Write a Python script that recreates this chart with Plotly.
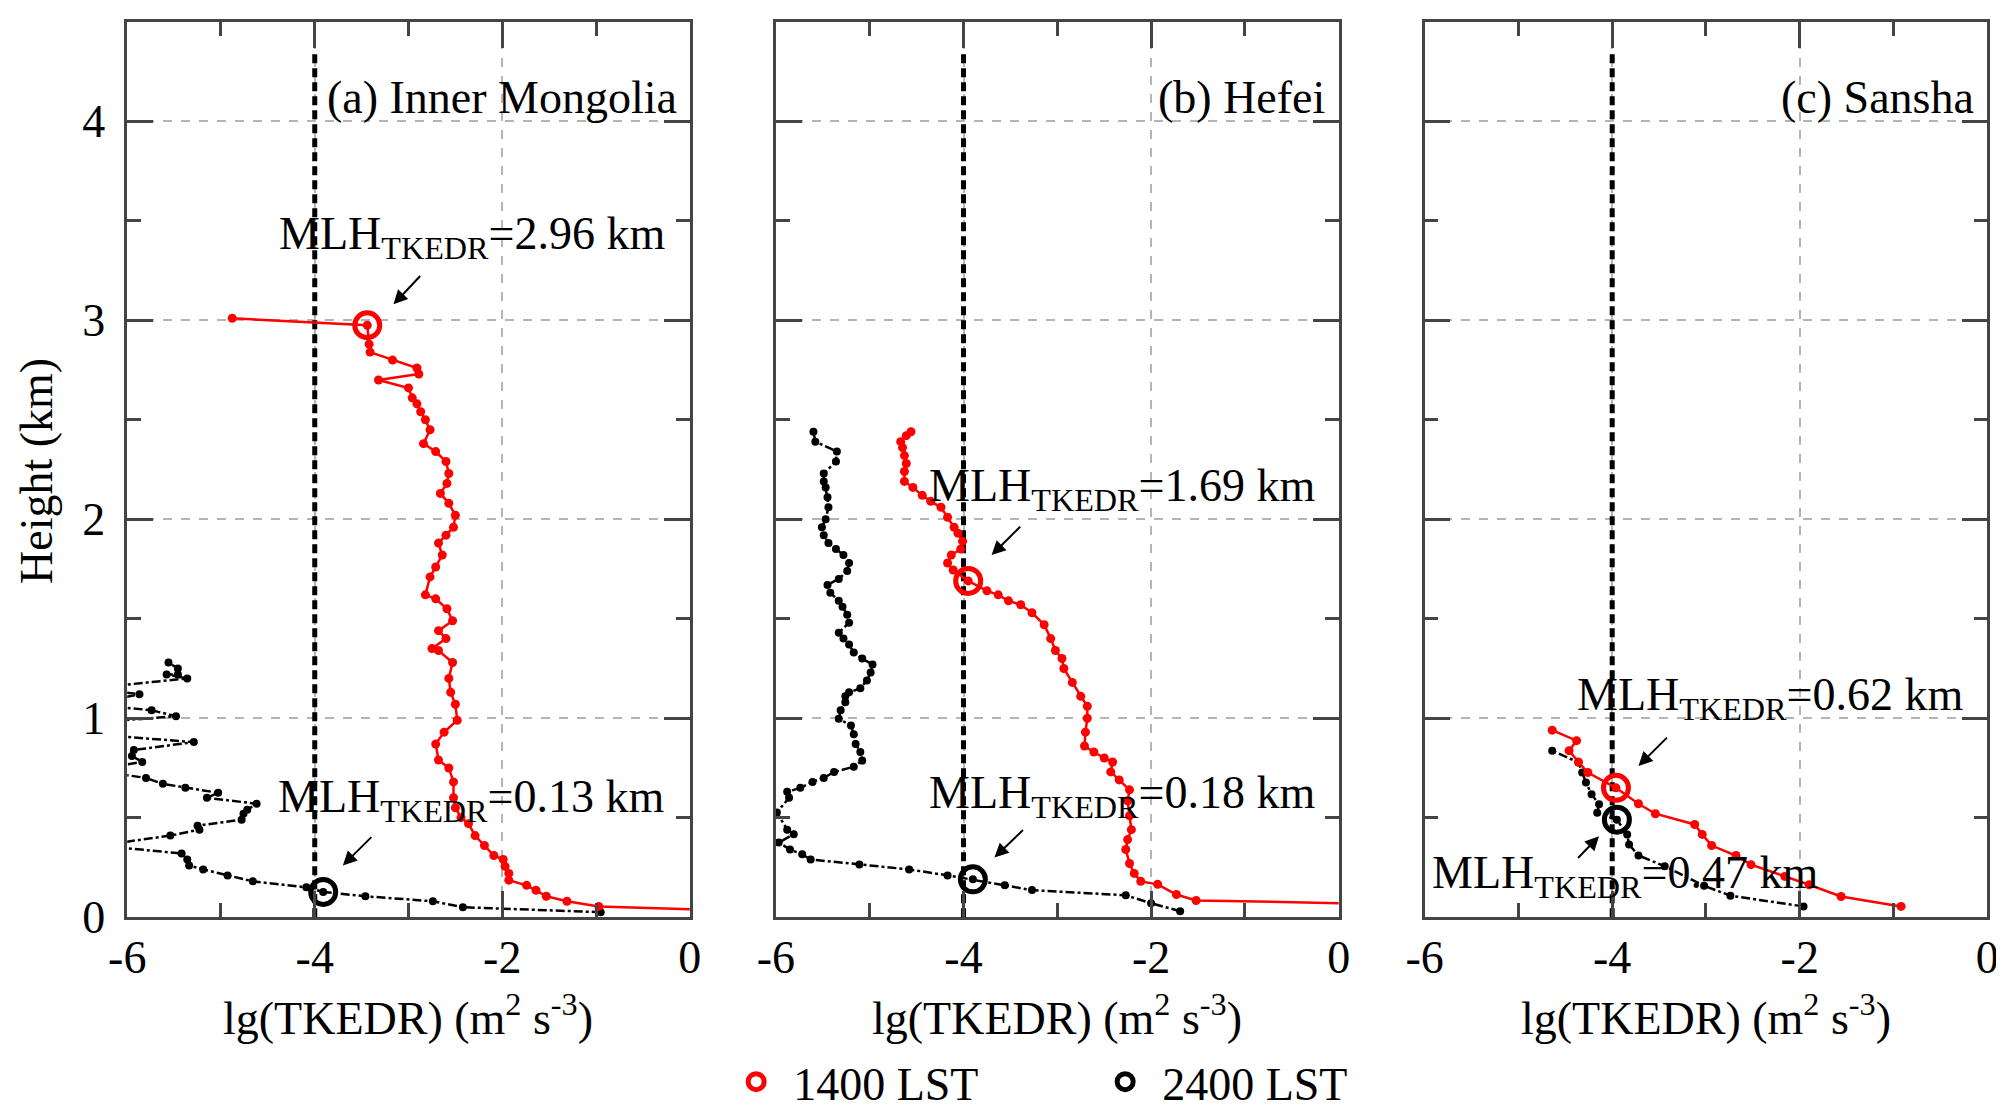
import plotly.graph_objects as go

# Profiles of lg(TKEDR) (m2 s-3) versus height (km)

# (a) Inner Mongolia
a_red_x = [0.3, -0.97, -1.31, -1.53, -1.64, -1.74, -1.93, -1.93, -1.97, -1.99, -2.09, -2.19, -2.29,
           -2.36, -2.44, -2.50, -2.52, -2.52, -2.57, -2.68, -2.71, -2.62, -2.48, -2.50, -2.55, -2.57,
           -2.53, -2.68, -2.75, -2.60, -2.68, -2.53, -2.59, -2.71, -2.82, -2.77, -2.71, -2.64, -2.68,
           -2.60, -2.52, -2.50, -2.57, -2.66, -2.59, -2.57, -2.60, -2.71, -2.84, -2.77, -2.82, -2.87,
           -2.91, -2.96, -3.00, -3.32, -2.89, -2.91, -3.17, -3.41, -3.42, -3.44, -4.88]
a_red_y = [0.035, 0.054, 0.08, 0.105, 0.135, 0.16, 0.186, 0.22, 0.255, 0.29, 0.31, 0.36, 0.41,
           0.47, 0.50, 0.55, 0.60, 0.68, 0.75, 0.79, 0.87, 0.93, 0.99, 1.07, 1.13, 1.20,
           1.28, 1.34, 1.35, 1.40, 1.44, 1.49, 1.55, 1.60, 1.62, 1.71, 1.76, 1.82, 1.88,
           1.92, 1.96, 2.02, 2.08, 2.13, 2.18, 2.23, 2.29, 2.34, 2.38, 2.45, 2.50, 2.54,
           2.58, 2.61, 2.66, 2.70, 2.73, 2.76, 2.80, 2.84, 2.88, 2.975, 3.01]
a_blk_x = [-0.95, -2.42, -2.74, -3.46, -3.91, -4.09, -4.66, -4.93, -5.19, -5.34, -5.36, -5.42, -6.3,
           -5.54, -5.23, -5.25, -4.78, -4.76, -4.72, -4.62, -5.15, -5.03, -5.38, -5.62, -5.80, -6.4,
           -5.84, -5.95, -5.93, -5.29, -6.4, -6.3, -5.48, -5.74, -6.4, -5.87, -6.4, -5.36, -5.58,
           -5.46, -5.46, -5.56]
a_blk_y = [0.025, 0.05, 0.08, 0.105, 0.127, 0.15, 0.18, 0.21, 0.24, 0.26, 0.29, 0.32, 0.36,
           0.41, 0.44, 0.46, 0.49, 0.52, 0.54, 0.57, 0.60, 0.625, 0.65, 0.67, 0.70, 0.74,
           0.78, 0.81, 0.84, 0.88, 0.92, 0.98, 1.01, 1.04, 1.07, 1.12, 1.15, 1.20, 1.22,
           1.22, 1.25, 1.28]

# (b) Hefei
b_red_x = [0.3, -1.52, -1.73, -1.93, -2.11, -2.18, -2.23, -2.27, -2.25, -2.21, -2.23, -2.25, -2.23,
           -2.34, -2.43, -2.41, -2.50, -2.61, -2.71, -2.70, -2.68, -2.68, -2.75, -2.84, -2.93, -2.95,
           -3.02, -3.07, -3.14, -3.27, -3.39, -3.52, -3.63, -3.75, -3.95, -4.11, -4.17, -4.13, -4.03,
           -4.01, -4.06, -4.10, -4.17, -4.24, -4.35, -4.44, -4.54, -4.63, -4.63, -4.61, -4.63, -4.65,
           -4.67, -4.61, -4.56]
b_red_y = [0.068, 0.084, 0.114, 0.165, 0.18, 0.22, 0.27, 0.34, 0.39, 0.44, 0.51, 0.585, 0.64,
           0.69, 0.73, 0.78, 0.80, 0.83, 0.86, 0.93, 1.00, 1.06, 1.11, 1.18, 1.25, 1.30,
           1.34, 1.40, 1.47, 1.53, 1.57, 1.59, 1.62, 1.64, 1.69, 1.745, 1.78, 1.82, 1.85,
           1.89, 1.93, 1.96, 2.01, 2.06, 2.09, 2.12, 2.16, 2.19, 2.24, 2.28, 2.32, 2.36,
           2.39, 2.42, 2.44]
b_blk_x = [-1.69, -2.00, -2.27, -3.27, -3.56, -3.90, -4.17, -4.58, -5.11, -5.63, -5.72, -5.85, -5.97,
           -5.81, -5.88, -5.99, -5.86, -5.88, -5.74, -5.61, -5.49, -5.38, -5.17, -5.08, -5.10, -5.15,
           -5.17, -5.20, -5.33, -5.31, -5.26, -5.26, -5.22, -5.10, -5.03, -4.99, -4.97, -5.08, -5.17,
           -5.22, -5.28, -5.33, -5.22, -5.24, -5.29, -5.33, -5.42, -5.45, -5.33, -5.24, -5.22, -5.28,
           -5.36, -5.44, -5.49, -5.51, -5.47, -5.44, -5.45, -5.47, -5.49, -5.49, -5.36, -5.35, -5.58,
           -5.60]
b_blk_y = [0.03, 0.07, 0.11, 0.136, 0.16, 0.19, 0.21, 0.24, 0.265, 0.29, 0.316, 0.34, 0.375,
           0.417, 0.44, 0.526, 0.60, 0.63, 0.65, 0.68, 0.70, 0.73, 0.756, 0.787, 0.83, 0.87,
           0.92, 0.963, 0.997, 1.04, 1.08, 1.11, 1.13, 1.15, 1.19, 1.23, 1.27, 1.30, 1.33,
           1.37, 1.40, 1.43, 1.48, 1.52, 1.56, 1.59, 1.63, 1.67, 1.70, 1.74, 1.78, 1.82,
           1.85, 1.88, 1.92, 1.96, 2.00, 2.06, 2.11, 2.16, 2.19, 2.23, 2.29, 2.34, 2.39,
           2.44]

# (c) Sansha
c_red_x = [-0.92, -1.56, -1.90, -2.16, -2.52, -2.68, -2.94, -3.04, -3.12, -3.54, -3.72, -3.96,
           -4.26, -4.36, -4.46, -4.38, -4.64]
c_red_y = [0.054, 0.104, 0.163, 0.205, 0.264, 0.31, 0.36, 0.416, 0.466, 0.52, 0.57, 0.65,
           0.727, 0.78, 0.837, 0.887, 0.94]
c_blk_x = [-1.96, -2.74, -3.02, -3.44, -3.72, -3.82, -3.84, -3.95, -4.16, -4.14, -4.22, -4.28,
           -4.32, -4.36, -4.64]
c_blk_y = [0.054, 0.108, 0.158, 0.256, 0.31, 0.365, 0.416, 0.49, 0.525, 0.567, 0.618, 0.677,
           0.727, 0.778, 0.837]

# Mixing-layer heights (marked points) and labels
mlh_red_x = [-3.44, -3.95, -3.96]
mlh_red_y = [2.975, 1.69, 0.65]
mlh_blk_x = [-3.91, -3.90, -3.95]
mlh_blk_y = [0.127, 0.19, 0.49]
mlh_red_lbl = ['2.96', '1.69', '0.62']
mlh_blk_lbl = ['0.13', '0.18', '0.47']
panel_lbl = ['(a) Inner Mongolia', '(b) Hefei', '(c) Sansha']

# tick labels (plain hyphen as in the original)
x_tickvals = [-6, -4, -2, 0]
x_ticktext = ['-6', '-4', '-2', '0']
y_tickvals = [0, 1, 2, 3, 4]
y_ticktext = ['0', '1', '2', '3', '4']

# threshold line lg(TKEDR) = -4
thr_x = [-4, -4]
thr_y = [0, 4.35]

FONT = 'Liberation Serif'
FS = 46

profiles = [
    (a_red_x, a_red_y, a_blk_x, a_blk_y),
    (b_red_x, b_red_y, b_blk_x, b_blk_y),
    (c_red_x, c_red_y, c_blk_x, c_blk_y),
]
# page body adds an 8 px offset, so the domains are shifted back by that amount
x_domains = [[0.0595, 0.3402], [0.3832, 0.6640], [0.7069, 0.9877]]
y_domain = [0.1846, 0.9876]

# label / arrow placement per panel (data units)
red_txt = [(-2.32, 3.42), (-2.31, 2.15), (-2.32, 1.10)]
red_arr = [((-2.86, 3.23), (-3.16, 3.08)), ((-3.38, 1.97), (-3.70, 1.82)), ((-3.40, 0.91), (-3.72, 0.76))]
blk_txt = [(-2.33, 0.59), (-2.31, 0.61), (-3.86, 0.205)]
blk_arr = [((-3.38, 0.41), (-3.70, 0.26)), ((-3.35, 0.445), (-3.67, 0.30)), ((-4.38, 0.29), (-4.14, 0.407))]

fig = go.Figure()
annotations = []

for i, (rx, ry, bx, by) in enumerate(profiles):
    xa = 'x' if i == 0 else f'x{i + 1}'
    ya = 'y' if i == 0 else f'y{i + 1}'
    fig.add_trace(go.Scatter(x=thr_x, y=thr_y, xaxis=xa, yaxis=ya, mode='lines',
                             line=dict(color='black', width=5, dash='9px,5px'), showlegend=False))
    fig.add_trace(go.Scatter(x=bx, y=by, xaxis=xa, yaxis=ya, mode='lines+markers',
                             line=dict(color='black', width=2.5, dash='dashdot'),
                             marker=dict(color='black', size=8), showlegend=False))
    fig.add_trace(go.Scatter(x=rx, y=ry, xaxis=xa, yaxis=ya, mode='lines+markers',
                             line=dict(color='#ff0000', width=2.5),
                             marker=dict(color='#ff0000', size=9), showlegend=False))
    fig.add_trace(go.Scatter(x=[mlh_red_x[i]], y=[mlh_red_y[i]], xaxis=xa, yaxis=ya, mode='markers',
                             marker=dict(symbol='circle-open', color='#ff0000', size=25,
                                         line=dict(width=5, color='#ff0000')),
                             name='1400 LST', showlegend=(i == 0)))
    fig.add_trace(go.Scatter(x=[mlh_blk_x[i]], y=[mlh_blk_y[i]], xaxis=xa, yaxis=ya, mode='markers',
                             marker=dict(symbol='circle-open', color='black', size=25,
                                         line=dict(width=5, color='black')),
                             name='2400 LST', showlegend=(i == 0)))

    for (tx, ty), lbl, ((ax_, ay_), (hx, hy)) in ((red_txt[i], mlh_red_lbl[i], red_arr[i]),
                                                (blk_txt[i], mlh_blk_lbl[i], blk_arr[i])):
        annotations.append(dict(x=tx, y=ty, xref=xa, yref=ya, showarrow=False,
                                text=f'MLH<sub>TKEDR</sub>={lbl} km',
                                font=dict(family=FONT, size=FS, color='black')))
        annotations.append(dict(x=hx, y=hy, ax=ax_, ay=ay_, xref=xa, yref=ya, axref=xa, ayref=ya,
                                text='', showarrow=True, arrowhead=2, arrowsize=1.4,
                                arrowwidth=2, arrowcolor='black'))
    annotations.append(dict(x=-0.12, y=4.12, xref=xa, yref=ya, xanchor='right', showarrow=False,
                            text=panel_lbl[i], font=dict(family=FONT, size=FS, color='black')))
    annotations.append(dict(x=sum(x_domains[i]) / 2, y=0.097, xref='paper', yref='paper',
                            xanchor='center', yanchor='middle', showarrow=False,
                            text='lg(TKEDR) (m<sup>2</sup> s<sup>-3</sup>)',
                            font=dict(family=FONT, size=FS, color='black')))

annotations.append(dict(x=0.0145, y=0.5848, xref='paper', yref='paper', showarrow=False,
                        xanchor='center', yanchor='middle', textangle=-90, text='Height (km)',
                        font=dict(family=FONT, size=FS, color='black')))

axis_common = dict(showline=True, linecolor='#444444', linewidth=2.5, mirror='allticks',
                   ticks='inside', ticklen=26, tickwidth=2.5, tickcolor='#444444',
                   showgrid=True, gridcolor='#b4b4b4', griddash='dash', gridwidth=2,
                   zeroline=False, automargin=False,
                   tickfont=dict(family=FONT, size=FS, color='black'))

layout = dict(width=2004, height=1115, margin=dict(l=0, r=0, t=0, b=0, autoexpand=False),
              paper_bgcolor='white', plot_bgcolor='white',
              font=dict(family=FONT, size=FS, color='black'),
              annotations=annotations,
              legend=dict(orientation='h', x=0.539, xanchor='center', y=0.037, yanchor='middle',
                          font=dict(family=FONT, size=FS, color='black'), entrywidth=290,
                          itemwidth=64, bgcolor='rgba(0,0,0,0)'))

for i in range(3):
    xk = 'xaxis' if i == 0 else f'xaxis{i + 1}'
    yk = 'yaxis' if i == 0 else f'yaxis{i + 1}'
    ya = 'y' if i == 0 else f'y{i + 1}'
    xa = 'x' if i == 0 else f'x{i + 1}'
    layout[xk] = dict(axis_common, domain=x_domains[i], anchor=ya, range=[-6, 0],
                      tickmode='array', tickvals=x_tickvals, ticktext=x_ticktext,
                      ticklabelstandoff=-2,
                      minor=dict(dtick=1, tick0=-6, ticklen=14, tickwidth=2.5, tickcolor='#444444',
                                 ticks='inside', showgrid=False))
    layout[yk] = dict(axis_common, domain=y_domain, anchor=xa, range=[0, 4.5],
                      tickmode='array', tickvals=y_tickvals, ticktext=y_ticktext,
                      showticklabels=(i == 0), ticklabelstandoff=10,
                      minor=dict(dtick=0.5, tick0=0, ticklen=14, tickwidth=2.5, tickcolor='#444444',
                                 ticks='inside', showgrid=False))

fig.update_layout(**layout)
fig.write_html('out.html')
